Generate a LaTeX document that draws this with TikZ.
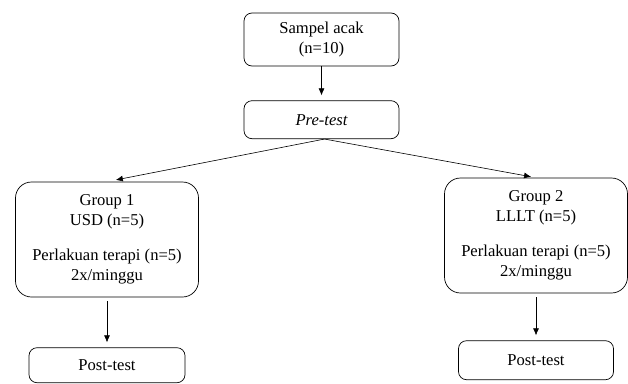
\documentclass[tikz,border=0pt]{standalone}
\usepackage{fontspec}
\setmainfont{Liberation Serif}
\usepackage{tikz}
\usetikzlibrary{positioning, arrows.meta}

\begin{document}
\begin{tikzpicture}[
  x=1pt, y=-1pt,
  box/.style={draw, line width=0.7pt, rounded corners=8pt, align=center,
              font=\fontsize{16.6}{20}\selectfont, inner sep=2pt},
  grp/.style={box, rounded corners=16pt, minimum width=183pt, minimum height=115pt},
  arr/.style={line width=0.6pt, -{Latex[length=7pt, width=6pt]}}]
  \useasboundingbox (0,0) rectangle (628,383);
  \node[box, minimum width=155pt, minimum height=53pt] (samp) at (321.5,39.5) {Sampel acak\\(n=10)};
  \node[box, minimum width=155pt, minimum height=38pt, below=34pt of samp] (pre) {\itshape Pre-test};
  \node[grp] (g1) at (107,239.5) {Group 1\\USD (n=5)\\[15pt]Perlakuan terapi (n=5)\\2x/minggu};
  \node[grp] (g2) at (536,235.5) {Group 2\\LLLT (n=5)\\[15pt]Perlakuan terapi (n=5)\\2x/minggu};
  \node[box, minimum width=156pt, minimum height=35pt, below=50pt of g1] (post1) {Post-test};
  \node[box, minimum width=155pt, minimum height=39pt, below=47pt of g2] (post2) {Post-test};
  \coordinate (split) at ([xshift=3pt]pre.south);
  \draw[arr, shorten >=5pt] (samp) -- (pre);
  \draw[arr, shorten >=9pt] (split) -- (g1.north);
  \draw[arr, shorten >=5pt] (split) -- (g2.north);
  \draw[arr, shorten <=4pt, shorten >=5pt] (g1) -- (post1);
  \draw[arr, shorten <=4pt, shorten >=5pt] (g2) -- (post2);
\end{tikzpicture}
\end{document}
